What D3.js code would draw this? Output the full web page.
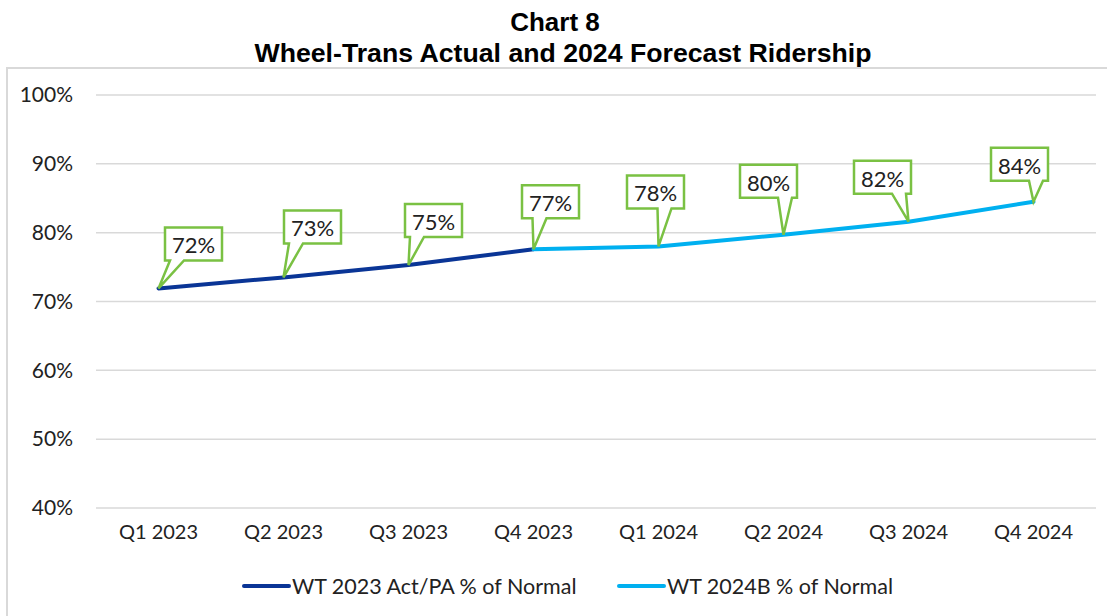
<!DOCTYPE html>
<html>
<head>
<meta charset="utf-8">
<script src="https://cdn.jsdelivr.net/npm/d3@7"></script>
<style>
  body { margin: 0; background: #fff; }
  text { font-family: Lato, "Open Sans", sans-serif; fill: #222; }
</style>
</head>
<body>
<div id="chart"></div>
<script>
// data
let quarters = ["Q1 2023", "Q2 2023", "Q3 2023", "Q4 2023", "Q1 2024", "Q2 2024", "Q3 2024", "Q4 2024"];
let actual2023 = [71.9, 73.5, 75.3, 77.6, null, null, null, null];
let budget2024 = [null, null, null, 77.6, 78.0, 79.7, 81.6, 84.5];
let pointLabels = ["72%", "73%", "75%", "77%", "78%", "80%", "82%", "84%"];
let yTicks = [40, 50, 60, 70, 80, 90, 100];
let seriesNames = ["WT 2023 Act/PA % of Normal", "WT 2024B % of Normal"];

// callout box offsets from their point (dx of box centre, dy of box top)
let calloutOffset = [[35, -61], [29, -67], [25, -61], [17, -64], [-3, -71], [-15, -70], [-26, -61], [-14, -54]];

let width = 1107, height = 616;
let margin = {top: 95, right: 11, bottom: 108, left: 96};

let svg = d3.select("#chart")
    .append("svg")
    .attr("width", width)
    .attr("height", height);

// chart frame
svg.append("rect")
    .attr("x", 7).attr("y", 68)
    .attr("width", width + 20).attr("height", height)
    .attr("fill", "none")
    .attr("stroke", "#d9d9d9")
    .attr("stroke-width", 2);

// title
svg.append("text")
    .attr("x", 555).attr("y", 31)
    .attr("text-anchor", "middle")
    .style("font-family", "'Liberation Sans', Arial, sans-serif")
    .style("font-weight", 700)
    .style("font-size", "26px")
    .style("fill", "#000")
    .text("Chart 8");
svg.append("text")
    .attr("x", 563).attr("y", 62)
    .attr("text-anchor", "middle")
    .attr("textLength", 617)
    .attr("lengthAdjust", "spacingAndGlyphs")
    .style("font-family", "'Liberation Sans', Arial, sans-serif")
    .style("font-weight", 700)
    .style("font-size", "26px")
    .style("fill", "#000")
    .text("Wheel-Trans Actual and 2024 Forecast Ridership");

let x = d3.scaleBand()
    .domain(quarters)
    .range([margin.left, width - margin.right]);

let y = d3.scaleLinear()
    .domain([40, 100])
    .range([height - margin.bottom, margin.top]);

// gridlines
svg.append("g")
    .selectAll("line")
    .data(yTicks)
    .enter()
    .append("line")
    .attr("x1", margin.left)
    .attr("x2", width - margin.right)
    .attr("y1", d => y(d))
    .attr("y2", d => y(d))
    .attr("stroke", "#d9d9d9")
    .attr("stroke-width", 1.5);

let yAxis = svg.append("g")
    .attr("transform", `translate(${margin.left - 20}, 0)`)
    .call(d3.axisLeft(y).tickValues(yTicks).tickSize(0).tickFormat(d => d + "%"));
yAxis.select(".domain").remove();
yAxis.selectAll("text").style("font-size", "21px").style("font-family", "Lato, sans-serif").attr("fill", "#222");

let xAxis = svg.append("g")
    .attr("transform", `translate(0, ${height - margin.bottom + 14})`)
    .call(d3.axisBottom(x).tickSize(0));
xAxis.select(".domain").remove();
xAxis.selectAll("text").style("font-size", "20px").style("font-family", "Lato, sans-serif").attr("fill", "#222");

let cx = d => x(d) + x.bandwidth() / 2;
let line = d3.line()
    .defined(d => d.v !== null)
    .x(d => cx(d.q))
    .y(d => y(d.v));

let colors = ["#0a3596", "#00b0f0"];
[actual2023, budget2024].forEach(function(vals, i) {
    svg.append("path")
        .datum(quarters.map((q, j) => ({q: q, v: vals[j]})))
        .attr("d", line)
        .attr("fill", "none")
        .attr("stroke", colors[i])
        .attr("stroke-width", 4)
        .attr("stroke-linecap", "round");
});

// callouts
let pts = quarters.map(function(q, i) {
    let v = actual2023[i] !== null ? actual2023[i] : budget2024[i];
    return {q: q, v: v, label: pointLabels[i], off: calloutOffset[i]};
});
let boxW = 57, boxH = 33;
let callouts = svg.append("g").selectAll("g").data(pts).enter().append("g");
callouts.append("path")
    .attr("d", function(d) {
        let px = cx(d.q), py = y(d.v);
        let bx = px + d.off[0] - boxW / 2, by = py + d.off[1];
        let bc = Math.max(bx + 12, Math.min(bx + boxW - 12, px + 6));
        let t1 = bc - 7, t2 = bc + 7, bb = by + boxH;
        return `M${bx},${by} H${bx + boxW} V${bb} H${t2} L${px},${py} L${t1},${bb} H${bx} Z`;
    })
    .attr("fill", "#fff")
    .attr("stroke", "#7ac143")
    .attr("stroke-width", 2.5)
    .attr("stroke-linejoin", "miter");
callouts.append("text")
    .attr("x", d => cx(d.q) + d.off[0])
    .attr("y", d => y(d.v) + d.off[1] + 26)
    .attr("text-anchor", "middle")
    .style("font-size", "22px")
    .text(d => d.label);

// legend
let legendX = [244, 619];
let legend = svg.append("g").selectAll("g").data(seriesNames).enter().append("g");
legend.append("line")
    .attr("x1", (d, i) => legendX[i])
    .attr("x2", (d, i) => legendX[i] + 45)
    .attr("y1", 586).attr("y2", 586)
    .attr("stroke", (d, i) => colors[i])
    .attr("stroke-width", 4)
    .attr("stroke-linecap", "round");
legend.append("text")
    .attr("x", (d, i) => legendX[i] + 48)
    .attr("y", 594)
    .style("font-size", "21.5px")
    .text(d => d);
</script>
</body>
</html>
